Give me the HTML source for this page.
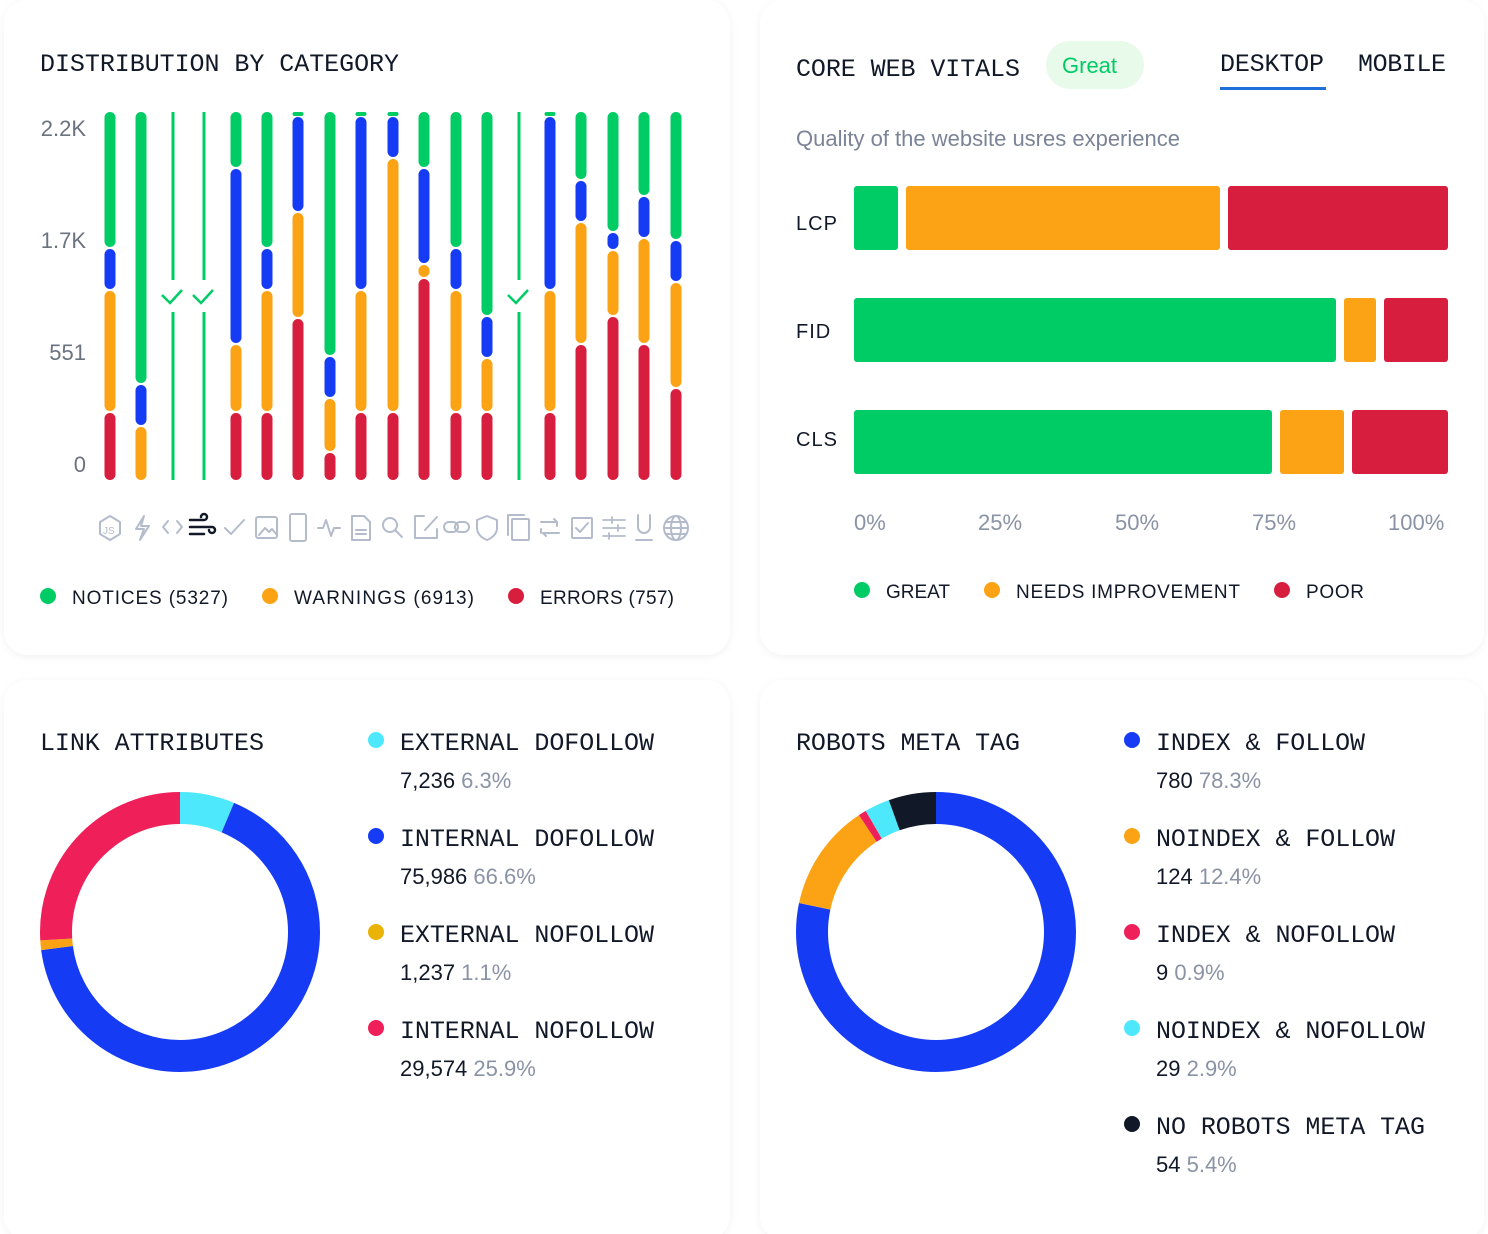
<!DOCTYPE html>
<html><head><meta charset="utf-8"><style>
html,body{margin:0;padding:0;background:#fff;}
svg{display:block}
.m{font-family:"Liberation Mono",monospace;font-size:25px;fill:#111827;letter-spacing:0px}
.s{font-family:"Liberation Sans",sans-serif}
</style></head><body>
<svg width="1488" height="1234" viewBox="0 0 1488 1234" xmlns="http://www.w3.org/2000/svg">
<defs><filter id="sh" x="-5%" y="-5%" width="110%" height="110%"><feDropShadow dx="0" dy="2" stdDeviation="4" flood-color="#000" flood-opacity="0.05"/></filter></defs>
<rect x="4" y="0" width="726" height="655" rx="24" fill="#fff" filter="url(#sh)"/>
<rect x="760" y="0" width="724" height="655" rx="24" fill="#fff" filter="url(#sh)"/>
<rect x="4" y="680" width="726" height="560" rx="24" fill="#fff" filter="url(#sh)"/>
<rect x="760" y="680" width="724" height="560" rx="24" fill="#fff" filter="url(#sh)"/>

<text x="40" y="71" class="m" textLength="359">DISTRIBUTION BY CATEGORY</text>
<g class="s" font-size="22" fill="#6b7280" text-anchor="end">
<text x="86" y="136">2.2K</text><text x="86" y="248">1.7K</text><text x="86" y="360">551</text><text x="86" y="472">0</text></g>

<g>
<g fill="#00cc66">
<rect x="104.5" y="112" width="11" height="135" rx="5.5"/>
<rect x="135.5" y="112" width="11" height="271" rx="5.5"/>
<rect x="171.5" y="112" width="3" height="168"/><rect x="171.5" y="312" width="3" height="168"/>
<rect x="202.5" y="112" width="3" height="168"/><rect x="202.5" y="312" width="3" height="168"/>
<rect x="517.5" y="112" width="3" height="168"/><rect x="517.5" y="312" width="3" height="168"/>
<rect x="230.5" y="112" width="11" height="55" rx="5.5"/>
<rect x="261.5" y="112" width="11" height="135" rx="5.5"/>
<rect x="292.5" y="112" width="11" height="4" rx="2"/>
<rect x="324.5" y="112" width="11" height="243" rx="5.5"/>
<rect x="355.5" y="112" width="11" height="4" rx="2"/>
<rect x="387.5" y="112" width="11" height="4" rx="2"/>
<rect x="418.5" y="112" width="11" height="55" rx="5.5"/>
<rect x="450.5" y="112" width="11" height="135" rx="5.5"/>
<rect x="481.5" y="112" width="11" height="203" rx="5.5"/>
<rect x="544.5" y="112" width="11" height="4" rx="2"/>
<rect x="575.5" y="112" width="11" height="67" rx="5.5"/>
<rect x="607.5" y="112" width="11" height="119" rx="5.5"/>
<rect x="638.5" y="112" width="11" height="83" rx="5.5"/>
<rect x="670.5" y="112" width="11" height="127" rx="5.5"/>
</g>
<g fill="none" stroke="#00cc66" stroke-width="2.5"><path d="M162 295l8 8 12-13"/><path d="M193 295l8 8 12-13"/><path d="M508 295l8 8 12-13"/></g>
<g fill="#163bf5">
<rect x="104.5" y="249" width="11" height="40" rx="5.5"/>
<rect x="135.5" y="385" width="11" height="40" rx="5.5"/>
<rect x="230.5" y="169" width="11" height="174" rx="5.5"/>
<rect x="261.5" y="249" width="11" height="40" rx="5.5"/>
<rect x="292.5" y="117" width="11" height="94" rx="5.5"/>
<rect x="324.5" y="357" width="11" height="40" rx="5.5"/>
<rect x="355.5" y="117" width="11" height="172" rx="5.5"/>
<rect x="387.5" y="117" width="11" height="40" rx="5.5"/>
<rect x="418.5" y="169" width="11" height="94" rx="5.5"/>
<rect x="450.5" y="249" width="11" height="40" rx="5.5"/>
<rect x="481.5" y="317" width="11" height="40" rx="5.5"/>
<rect x="544.5" y="117" width="11" height="172" rx="5.5"/>
<rect x="575.5" y="181" width="11" height="40" rx="5.5"/>
<rect x="607.5" y="233" width="11" height="16" rx="5.5"/>
<rect x="638.5" y="197" width="11" height="40" rx="5.5"/>
<rect x="670.5" y="241" width="11" height="40" rx="5.5"/>
</g>
<g fill="#fba314">
<rect x="104.5" y="291" width="11" height="120" rx="5.5"/>
<rect x="135.5" y="427" width="11" height="53" rx="5.5"/>
<rect x="230.5" y="345" width="11" height="66" rx="5.5"/>
<rect x="261.5" y="291" width="11" height="120" rx="5.5"/>
<rect x="292.5" y="213" width="11" height="104" rx="5.5"/>
<rect x="324.5" y="399" width="11" height="52" rx="5.5"/>
<rect x="355.5" y="291" width="11" height="120" rx="5.5"/>
<rect x="387.5" y="159" width="11" height="252" rx="5.5"/>
<rect x="418.5" y="265" width="11" height="12" rx="5.5"/>
<rect x="450.5" y="291" width="11" height="120" rx="5.5"/>
<rect x="481.5" y="359" width="11" height="52" rx="5.5"/>
<rect x="544.5" y="291" width="11" height="120" rx="5.5"/>
<rect x="575.5" y="223" width="11" height="120" rx="5.5"/>
<rect x="607.5" y="251" width="11" height="64" rx="5.5"/>
<rect x="638.5" y="239" width="11" height="104" rx="5.5"/>
<rect x="670.5" y="283" width="11" height="104" rx="5.5"/>
</g>
<g fill="#d81e3e">
<rect x="104.5" y="413" width="11" height="67" rx="5.5"/>
<rect x="230.5" y="413" width="11" height="67" rx="5.5"/>
<rect x="261.5" y="413" width="11" height="67" rx="5.5"/>
<rect x="292.5" y="319" width="11" height="161" rx="5.5"/>
<rect x="324.5" y="453" width="11" height="27" rx="5.5"/>
<rect x="355.5" y="413" width="11" height="67" rx="5.5"/>
<rect x="387.5" y="413" width="11" height="67" rx="5.5"/>
<rect x="418.5" y="279" width="11" height="201" rx="5.5"/>
<rect x="450.5" y="413" width="11" height="67" rx="5.5"/>
<rect x="481.5" y="413" width="11" height="67" rx="5.5"/>
<rect x="544.5" y="413" width="11" height="67" rx="5.5"/>
<rect x="575.5" y="345" width="11" height="135" rx="5.5"/>
<rect x="607.5" y="317" width="11" height="163" rx="5.5"/>
<rect x="638.5" y="345" width="11" height="135" rx="5.5"/>
<rect x="670.5" y="389" width="11" height="91" rx="5.5"/>
</g>
</g>

<g fill="none" stroke="#b4bccb" stroke-width="2" stroke-linecap="round" stroke-linejoin="round">
<path d="M110 516l10 6v12l-10 6-10-6v-12z"/><text x="103" y="534" font-size="10" font-family="Liberation Sans" fill="#b4bccb" stroke="none">JS</text>
<path d="M144 516l-8 13h8l-4 11 9-14h-8z"/>
<path d="M168 521l-5 6 5 6M177 521l5 6-5 6"/>
<path d="M190 520h14a3 3 0 1 0-3-3M190 527h22a3 3 0 1 1-3 3M190 534h14" stroke="#111827" stroke-width="2.5"/>
<path d="M225 528l6 6 13-14"/>
<rect x="256" y="517" width="21" height="21" rx="2"/><path d="M259 535l6-7 4 4 3-3 5 6"/>
<rect x="290" y="514" width="16" height="27" rx="2"/>
<path d="M318 528h5l3-8 5 16 3-8h6"/>
<path d="M352 516h12l6 6v18h-18z M356 530h10M356 534h10"/>
<circle cx="390" cy="525" r="7"/><path d="M395 530l7 7"/>
<path d="M424 516h-9v22h22v-9M425 530l12-13"/>
<rect x="444" y="522" width="14" height="10" rx="5"/><rect x="455" y="522" width="14" height="10" rx="5"/>
<path d="M487 516l10 4v8c0 6-5 10-10 12-5-2-10-6-10-12v-8z"/>
<rect x="512" y="519" width="17" height="21" rx="1"/><path d="M508 535v-20h16"/>
<path d="M541 522h16l-3-3M559 533h-16l3 3M557 522v4M541 533v-4"/>
<rect x="572" y="518" width="20" height="20" rx="1"/><path d="M576 528l4 4 8-9"/>
<path d="M603 520h22M603 528h22M603 536h22M612 517v6M618 525v6M609 533v6" stroke-width="1.8"/>
<path d="M638 515v12a6 6 0 0 0 12 0v-12M636 540h16"/>
<circle cx="676" cy="528" r="12"/><ellipse cx="676" cy="528" rx="5" ry="12"/><path d="M664 528h24M666 522h20M666 534h20"/>
</g>

<g class="s" font-size="19" fill="#111827" letter-spacing="1">
<circle cx="48" cy="596" r="8" fill="#00cc66"/><text x="72" y="604" textLength="157">NOTICES (5327)</text>
<circle cx="270" cy="596" r="8" fill="#fba314"/><text x="294" y="604" textLength="181">WARNINGS (6913)</text>
<circle cx="516" cy="596" r="8" fill="#d81e3e"/><text x="540" y="604" textLength="135">ERRORS (757)</text>
</g>

<text x="796" y="76" class="m" textLength="224">CORE WEB VITALS</text>
<rect x="1046" y="41" width="98" height="48" rx="24" fill="#e8faea"/>
<text x="1062" y="73" class="s" font-size="22" fill="#00cc66">Great</text>
<text x="1220" y="71" class="m" textLength="104">DESKTOP</text>
<rect x="1220" y="87" width="106" height="3" fill="#1e6fd9"/>
<text x="1358" y="71" class="m" fill="#374151" textLength="88">MOBILE</text>
<text x="796" y="146" class="s" font-size="22" fill="#7b8496">Quality of the website usres experience</text>
<g class="s" font-size="20" fill="#111827" letter-spacing="1">
<text x="796" y="230">LCP</text><text x="796" y="338">FID</text><text x="796" y="446">CLS</text></g>
<g>
<rect x="854" y="186" width="44" height="64" rx="3" fill="#00cc66"/><rect x="906" y="186" width="314" height="64" rx="3" fill="#fba314"/><rect x="1228" y="186" width="220" height="64" rx="3" fill="#d81e3e"/>
<rect x="854" y="298" width="482" height="64" rx="3" fill="#00cc66"/><rect x="1344" y="298" width="32" height="64" rx="3" fill="#fba314"/><rect x="1384" y="298" width="64" height="64" rx="3" fill="#d81e3e"/>
<rect x="854" y="410" width="418" height="64" rx="3" fill="#00cc66"/><rect x="1280" y="410" width="64" height="64" rx="3" fill="#fba314"/><rect x="1352" y="410" width="96" height="64" rx="3" fill="#d81e3e"/>
</g>
<g class="s" font-size="22" fill="#8a93a5">
<text x="854" y="530">0%</text><text x="978" y="530">25%</text><text x="1115" y="530">50%</text><text x="1252" y="530">75%</text><text x="1388" y="530">100%</text></g>
<g class="s" font-size="19" fill="#111827" letter-spacing="1">
<circle cx="862" cy="590" r="8" fill="#00cc66"/><text x="886" y="598" textLength="65">GREAT</text>
<circle cx="992" cy="590" r="8" fill="#fba314"/><text x="1016" y="598" textLength="225">NEEDS IMPROVEMENT</text>
<circle cx="1282" cy="590" r="8" fill="#d81e3e"/><text x="1306" y="598" textLength="59">POOR</text>
</g>

<text x="40" y="750" class="m" textLength="224">LINK ATTRIBUTES</text>
<g transform="rotate(-90 180 932)" fill="none" stroke-width="32">
<circle cx="180" cy="932" r="124" stroke="#4de8fb" stroke-dasharray="49.1 730"/>
<circle cx="180" cy="932" r="124" stroke="#163bf5" stroke-dasharray="0 49.1 518.9 211.1"/>
<circle cx="180" cy="932" r="124" stroke="#fba314" stroke-dasharray="0 568 8.6 202.5"/>
<circle cx="180" cy="932" r="124" stroke="#ef1f5a" stroke-dasharray="0 576.6 202.5"/>
</g>
<g class="m">
<circle cx="376" cy="740" r="8" fill="#4de8fb"/><text x="400" y="750" textLength="254">EXTERNAL DOFOLLOW</text>
<circle cx="376" cy="836" r="8" fill="#163bf5"/><text x="400" y="846" textLength="254">INTERNAL DOFOLLOW</text>
<circle cx="376" cy="932" r="8" fill="#eab308"/><text x="400" y="942" textLength="254">EXTERNAL NOFOLLOW</text>
<circle cx="376" cy="1028" r="8" fill="#ef1f5a"/><text x="400" y="1038" textLength="254">INTERNAL NOFOLLOW</text>
</g>
<g class="s" font-size="22" fill="#111827">
<text x="400" y="788">7,236 <tspan fill="#8a93a5">6.3%</tspan></text>
<text x="400" y="884">75,986 <tspan fill="#8a93a5">66.6%</tspan></text>
<text x="400" y="980">1,237 <tspan fill="#8a93a5">1.1%</tspan></text>
<text x="400" y="1076">29,574 <tspan fill="#8a93a5">25.9%</tspan></text>
</g>

<text x="796" y="750" class="m" textLength="224">ROBOTS META TAG</text>
<g transform="rotate(-90 936 932)" fill="none" stroke-width="32">
<circle cx="936" cy="932" r="124" stroke="#163bf5" stroke-dasharray="610 169.1"/>
<circle cx="936" cy="932" r="124" stroke="#fba314" stroke-dasharray="0 610 96.6 72.5"/>
<circle cx="936" cy="932" r="124" stroke="#ef1f5a" stroke-dasharray="0 706.6 7 65.5"/>
<circle cx="936" cy="932" r="124" stroke="#4de8fb" stroke-dasharray="0 713.6 22.6 42.9"/>
<circle cx="936" cy="932" r="124" stroke="#111827" stroke-dasharray="0 736.2 42.9"/>
</g>
<g class="m">
<circle cx="1132" cy="740" r="8" fill="#163bf5"/><text x="1156" y="750" textLength="209">INDEX &amp; FOLLOW</text>
<circle cx="1132" cy="836" r="8" fill="#fba314"/><text x="1156" y="846" textLength="239">NOINDEX &amp; FOLLOW</text>
<circle cx="1132" cy="932" r="8" fill="#ef1f5a"/><text x="1156" y="942" textLength="239">INDEX &amp; NOFOLLOW</text>
<circle cx="1132" cy="1028" r="8" fill="#4de8fb"/><text x="1156" y="1038" textLength="269">NOINDEX &amp; NOFOLLOW</text>
<circle cx="1132" cy="1124" r="8" fill="#111827"/><text x="1156" y="1134" textLength="269">NO ROBOTS META TAG</text>
</g>
<g class="s" font-size="22" fill="#111827">
<text x="1156" y="788">780 <tspan fill="#8a93a5">78.3%</tspan></text>
<text x="1156" y="884">124 <tspan fill="#8a93a5">12.4%</tspan></text>
<text x="1156" y="980">9 <tspan fill="#8a93a5">0.9%</tspan></text>
<text x="1156" y="1076">29 <tspan fill="#8a93a5">2.9%</tspan></text>
<text x="1156" y="1172">54 <tspan fill="#8a93a5">5.4%</tspan></text>
</g>
</svg>
</body></html>
